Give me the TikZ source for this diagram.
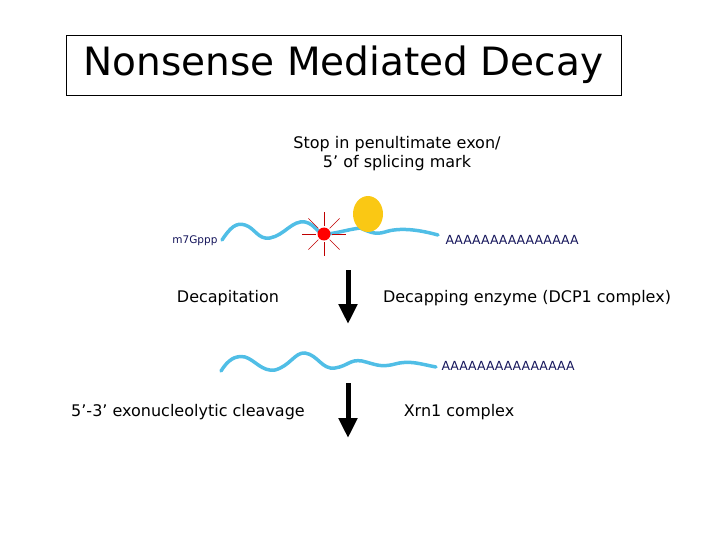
\documentclass[tikz,border=0pt]{standalone}
\usepackage{fontspec}
\setmainfont{DejaVu Sans}
\usetikzlibrary{arrows.meta,calc,shapes.geometric}
\begin{document}
\begin{tikzpicture}[x=1pt,y=-1pt,
  rna/.style={draw={rgb,255:red,80;green,190;blue,230},line width=3.5pt,line cap=round},
  down/.style={line width=5pt,-{Triangle[width=18pt,length=20pt]}},
  lbl/.style={font=\fontsize{16}{19}\selectfont},
  poly/.style={font=\fontsize{12.5}{14}\selectfont,text={rgb,255:red,20;green,20;blue,90}}]
\useasboundingbox (0,0) rectangle (720,540);
\node[draw,line width=0.8pt,minimum width=555pt,minimum height=60pt,font=\fontsize{39}{44}\selectfont] (title) at (343.5,65) {Nonsense Mediated Decay};
\node[lbl,align=center] (stop) at (397,154) {Stop in penultimate exon/\\5’ of splicing mark};
% top RNA
\draw[rna] (222,240) .. controls (230,228) and (236,222) .. (245,225)
  .. controls (255,228) and (258,240) .. (270,238)
  .. controls (285,235) and (292,220) .. (305,222)
  .. controls (315,224) and (318,234) .. (324,234)
  .. controls (335,234) and (345,230) .. (360,228)
  .. controls (370,232) and (375,235) .. (385,232)
  .. controls (400,227) and (420,230) .. (438,235);
\foreach \a in {0,45,...,315}
  \draw[red!75!black,line width=0.6pt] ($(324,234)+(\a:8)$) -- ($(324,234)+(\a:22)$);
\node[circle,fill=red,inner sep=0pt,minimum size=13pt] (cap) at (324,234) {};
\node[ellipse,fill={rgb,255:red,250;green,200;blue,20},minimum width=30pt,minimum height=36pt,inner sep=0pt] (ribo) at (368,214) {};
\node[poly,font=\fontsize{10.5}{12}\selectfont,anchor=east] (m7) at (221,241) {m7Gppp};
\node[poly,anchor=west] (pa1) at (442,240) {AAAAAAAAAAAAAAA};
% arrow 1
\coordinate (a1s) at (348,270); \coordinate (a1e) at (348,324);
\draw[down] (a1s) -- (a1e);
\node[lbl] (dec) at (228,298) {Decapitation};
\node[lbl] (dcp) at (527,298) {Decapping enzyme (DCP1 complex)};
% bottom RNA
\draw[rna] (221,371) .. controls (228,360) and (235,355) .. (245,357)
  .. controls (255,360) and (262,372) .. (275,370)
  .. controls (290,366) and (295,352) .. (305,353)
  .. controls (318,355) and (322,370) .. (335,368)
  .. controls (348,366) and (350,359) .. (362,361)
  .. controls (375,364) and (380,368) .. (395,364)
  .. controls (410,360) and (420,364) .. (436,367);
\node[poly,anchor=west] (pa2) at (438,366) {AAAAAAAAAAAAAAA};
% arrow 2
\coordinate (a2s) at (348,383); \coordinate (a2e) at (348,438);
\draw[down] (a2s) -- (a2e);
\node[lbl] (exo) at (188,412) {5’-3’ exonucleolytic cleavage};
\node[lbl] (xrn) at (459,412) {Xrn1 complex};
\end{tikzpicture}
\end{document}
